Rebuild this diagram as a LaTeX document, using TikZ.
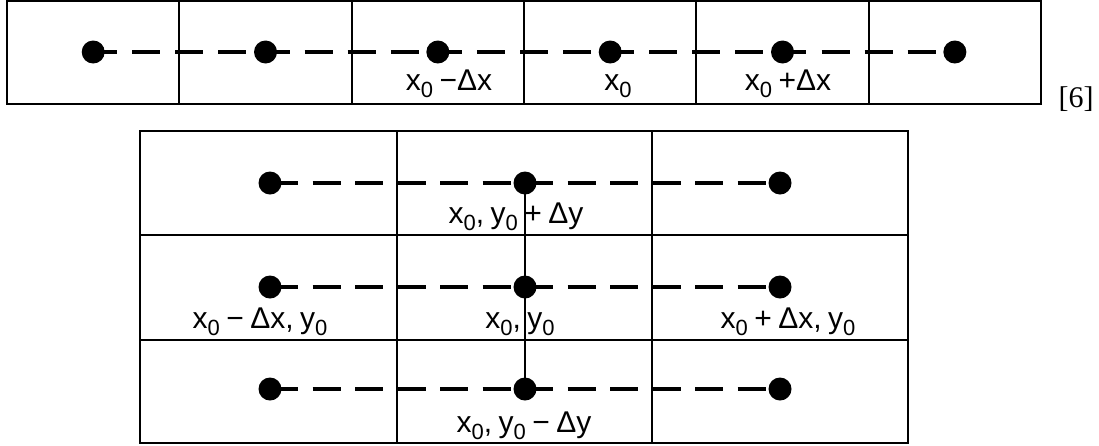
\documentclass[tikz,border=0pt]{standalone}
\usepackage{fontspec}
\setmainfont{Liberation Sans}
\newfontfamily\refserif{Liberation Serif}
\newcommand{\lsub}[1]{\raisebox{-0.25em}{\fontsize{22}{22}\selectfont #1}}
\newcommand{\tsp}{\hspace{6.5pt}}
\begin{document}
\begin{tikzpicture}[x=1pt,y=-1pt,
  cell/.style={draw, line width=2pt},
  dotnode/.style={circle, fill=black, inner sep=0pt, minimum size=23pt},
  dashtop/.style={line width=3.5pt, dash pattern=on 28pt off 15.08pt, dash phase=4pt},
  dashbot/.style={line width=3.5pt, dash pattern=on 28pt off 14.5pt},
  vline/.style={line width=1.6pt},
  lbl/.style={anchor=base, inner sep=0pt, font=\fontsize{30}{32}\selectfont},
  reflbl/.style={anchor=base, inner sep=0pt, font=\refserif\fontsize{30}{32}\selectfont}]
\useasboundingbox (0,0) rectangle (1099,445);
% ---- top strip ----
\draw[cell] (7,1) rectangle (1041,104);
\foreach \i in {1,...,5} \draw[cell] ({7+172.33*\i},1) -- ({7+172.33*\i},104);
\foreach \i [count=\k] in {0,...,5}
  \node[dotnode] (t\k) at ({93.2+172.33*\i},52) {};
\draw[dashtop] (t1.center) -- (t2.center) -- (t3.center) -- (t4.center) -- (t5.center) -- (t6.center);
\node[lbl] (lt3) at (449,90) {x\lsub{0}\tsp−Δx};
\node[lbl] (lt4) at (618,90) {x\lsub{0}};
\node[lbl] (lt5) at (788,90) {x\lsub{0}\tsp+Δx};
\node[reflbl] (ref) at (1076,107) {[6]};
% ---- bottom grid ----
\draw[cell] (140,131) rectangle (908,443);
\draw[cell] (397,131) -- (397,443);
\draw[cell] (652,131) -- (652,443);
\draw[cell] (140,235) -- (908,235);
\draw[cell] (140,340) -- (908,340);
\foreach \r/\yy in {1/183,2/287,3/389}{
  \node[dotnode] (b\r1) at (270,\yy) {};
  \node[dotnode] (b\r2) at (525,\yy) {};
  \node[dotnode] (b\r3) at (780,\yy) {};
}
\draw[dashbot] (b11.center) -- (b12.center) -- (b13.center);
\draw[dashbot] (b21.center) -- (b22.center) -- (b23.center);
\draw[dashbot] (b31.center) -- (b32.center) -- (b33.center);
\draw[vline] (b12.center) -- (b22.center) -- (b32.center);
\node[lbl] (l12) at (516,223) {x\lsub{0},\tsp y\lsub{0}\tsp+\tsp Δy};
\node[lbl] (l21) at (260,328) {x\lsub{0}\tsp−\tsp Δx,\tsp y\lsub{0}};
\node[lbl] (l22) at (520,328) {x\lsub{0},\tsp y\lsub{0}};
\node[lbl] (l23) at (788,328) {x\lsub{0}\tsp+\tsp Δx,\tsp y\lsub{0}};
\node[lbl] (l32) at (524,432) {x\lsub{0},\tsp y\lsub{0}\tsp−\tsp Δy};
\end{tikzpicture}
\end{document}
